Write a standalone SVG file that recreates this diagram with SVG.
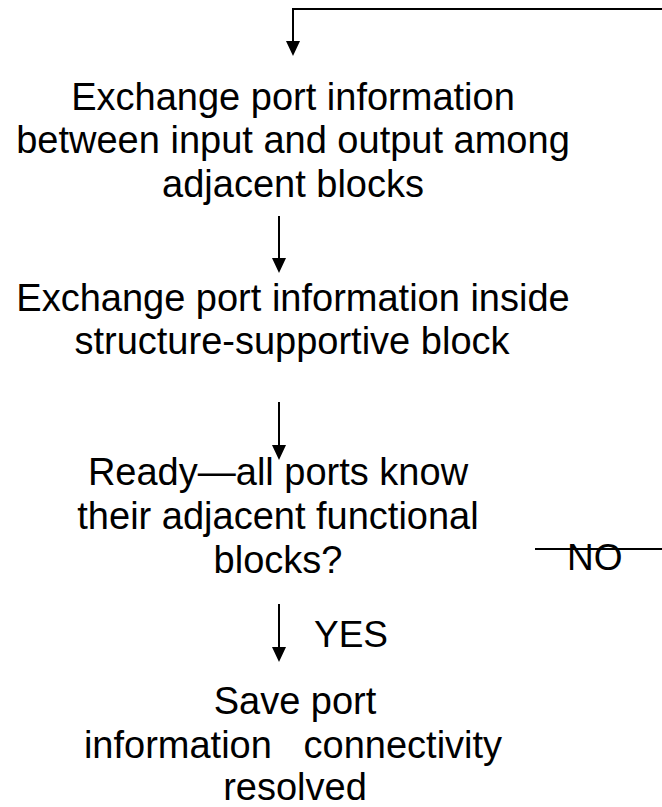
<svg xmlns="http://www.w3.org/2000/svg" width="662" height="807" viewBox="0 0 662 807">
  <defs>
    <style>
      .t { font-family: "Liberation Sans", Arial, sans-serif; font-size: 38px; fill: #000; text-anchor: middle; }
      .lbl { font-family: "Liberation Sans", Arial, sans-serif; font-size: 37px; fill: #000; }
      .ln { stroke: #000; stroke-width: 2; fill: none; }
      .head { fill: #000; }
    </style>
  </defs>
  <rect width="662" height="807" fill="#fff"/>

  <g id="connectors">
    <!-- loop-back from the NO branch, re-entering at the top -->
    <path class="ln" d="M662,9 H293 V42"/>
    <path class="head" d="M286,41 L300,41 L293,56 Z"/>
    <path class="ln" d="M279,216 V259"/>
    <path class="head" d="M272,258 L286,258 L279,273 Z"/>
    <path class="ln" d="M279,402 V446"/>
    <path class="head" d="M272,445 L286,445 L279,460 Z"/>
    <path class="ln" d="M279,604 V648"/>
    <path class="head" d="M272,647 L286,647 L279,662 Z"/>
    <!-- NO branch leaving to the right -->
    <path class="ln" d="M535,549 H662"/>
    <text class="lbl" x="567" y="570">NO</text>
    <text class="lbl" x="314" y="647">YES</text>
  </g>

  <g id="exchange-adjacent">
    <text class="t" x="293" y="110">Exchange port information</text>
    <text class="t" x="293" y="153">between input and output among</text>
    <text class="t" x="293" y="197">adjacent blocks</text>
  </g>

  <g id="exchange-inside">
    <text class="t" x="293" y="311">Exchange port information inside</text>
    <text class="t" x="292" y="354">structure-supportive block</text>
  </g>

  <g id="ready-check">
    <text class="t" x="278" y="485">Ready—all ports know</text>
    <text class="t" x="278" y="529">their adjacent functional</text>
    <text class="t" x="278" y="573">blocks?</text>
  </g>

  <g id="save-info">
    <text class="t" x="295" y="714">Save port</text>
    <text class="t" x="293" y="758" xml:space="preserve">information   connectivity</text>
    <text class="t" x="295" y="800">resolved</text>
  </g>
</svg>
